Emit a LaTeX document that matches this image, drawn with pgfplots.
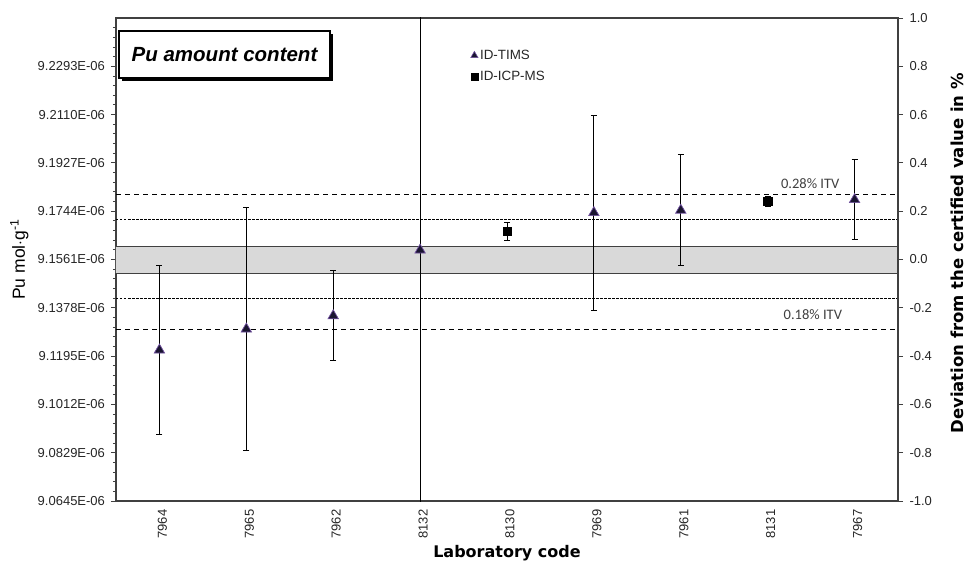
\documentclass[border=0pt]{standalone}
\usepackage{pgfplots}
\pgfplotsset{compat=1.18}
\usepackage{fontspec}
\setmainfont{Liberation Sans}
\newfontfamily\verd{DejaVu Sans}
\newfontfamily\calib{Carlito}
\usetikzlibrary{shadows}
\definecolor{axgray}{HTML}{404040}
\definecolor{bandgray}{HTML}{D9D9D9}
\definecolor{trifill}{HTML}{1A1530}
\definecolor{triedge}{HTML}{7050A0}
\newcommand{\tickfont}{\fontsize{13}{15}\selectfont}
\pgfplotsset{
  timsleg/.style={legend image code/.code={\draw[mark=triangle*, mark size=4.2pt, mark options={fill=trifill, draw=triedge, line width=0.6pt}] plot coordinates {(0pt,0pt)};}},
  icpleg/.style={legend image code/.code={\draw[mark=square*, mark size=3.4pt, mark options={fill=black, draw=black}] plot coordinates {(0pt,0pt)};}},
}

\pgfplotstableread{
x y e
0 -0.375 0.350
1 -0.288 0.503
2 -0.233 0.186
5 0.194 0.404
6 0.204 0.229
8 0.248 0.166
}\timsdata
\pgfplotstableread{
x y e
3 0.039 3.0
}\timsbig
\pgfplotstableread{
x y e
4 0.116 0.037
7 0.241 0.020
}\icpdata

\begin{document}
\begin{tikzpicture}
\begin{axis}[
  scale only axis, width=782pt, height=483pt,
  xmin=-0.5, xmax=8.5, ymin=-1, ymax=1,
  axis line style={draw=axgray, line width=1.1pt},
  xtick={0,1,2,3,4,5,6,7,8},
  xticklabels={7964,7965,7962,8132,8130,7969,7961,8131,7967},
  xtick style={draw=none},
  xtick pos=bottom,
  xticklabel style={rotate=90, anchor=east, font=\tickfont, text=black!85, yshift=-3pt},
  ytick={-1,-0.8,-0.6,-0.4,-0.2,0,0.2,0.4,0.6,0.8},
  yticklabels={9.0645E-06,9.0829E-06,9.1012E-06,9.1195E-06,9.1378E-06,9.1561E-06,9.1744E-06,9.1927E-06,9.2110E-06,9.2293E-06},
  minor ytick={-0.96,-0.92,-0.88,-0.84,-0.76,-0.72,-0.68,-0.64,-0.56,-0.52,-0.48,-0.44,-0.36,-0.32,-0.28,-0.24,-0.16,-0.12,-0.08,-0.04,0.04,0.08,0.12,0.16,0.24,0.28,0.32,0.36,0.44,0.48,0.52,0.56,0.64,0.68,0.72,0.76,0.84,0.88,0.92,0.96},
  ytick pos=left,
  tick align=outside,
  major tick length=5pt, minor tick length=3pt,
  ytick style={draw=axgray, line width=0.9pt},
  minor tick style={draw=axgray, line width=0.8pt},
  yticklabel style={font=\tickfont, text=black!85, xshift=-2.5pt},
  ylabel={Pu mol$\cdot$g\textsuperscript{-1}},
  ylabel style={at={(axis description cs:-0.1237,0.5)}, anchor=center, font=\fontsize{17.5}{20}\selectfont},
  xlabel={Laboratory code},
  xlabel style={at={(axis description cs:0.5,-0.1077)}, anchor=center, font=\verd\bfseries\fontsize{16}{18}\selectfont},
  legend style={at={(axis description cs:0.4534,0.938)}, anchor=north west, draw=none, fill=none,
    font=\fontsize{13.4}{15}\selectfont, row sep=6pt, inner sep=0pt, text=black!85},
  legend cell align=left,
  clip=true,
]
\coordinate (bl) at (rel axis cs:0,0);
\coordinate (tr) at (rel axis cs:1,1);
% certified value band
\addplot[draw=none, fill=bandgray, forget plot] coordinates {(-0.5,-0.056) (8.5,-0.056) (8.5,0.053) (-0.5,0.053) (-0.5,-0.056)};
\addplot[draw=axgray, line width=1pt, forget plot] coordinates {(-0.5,0.053) (8.5,0.053)};
\addplot[draw=axgray, line width=1pt, forget plot] coordinates {(-0.5,-0.056) (8.5,-0.056)};
% ITV lines
\addplot[black, line width=0.9pt, dash pattern=on 5pt off 4pt, forget plot] coordinates {(-0.5,0.271) (8.5,0.271)};
\addplot[black, line width=0.9pt, dash pattern=on 5pt off 4pt, forget plot] coordinates {(-0.5,-0.288) (8.5,-0.288)};
\addplot[black, line width=0.8pt, dash pattern=on 2.5pt off 1.5pt, forget plot] coordinates {(-0.5,0.164) (8.5,0.164)};
\addplot[black, line width=0.8pt, dash pattern=on 2.5pt off 1.5pt, forget plot] coordinates {(-0.5,-0.161) (8.5,-0.161)};
% 8132 with very large uncertainty
\addplot[only marks, mark=triangle*, mark size=6pt, mark options={fill=trifill, draw=triedge, line width=0.7pt}, forget plot,
  error bars/.cd, y dir=both, y explicit, error bar style={black, line width=1.2pt}, error mark=none]
  table[x=x, y=y, y error=e] {\timsbig};
% ID-TIMS
\addplot[only marks, mark=triangle*, mark size=6pt, mark options={fill=trifill, draw=triedge, line width=0.7pt},
  timsleg,
  error bars/.cd, y dir=both, y explicit, error bar style={black, line width=0.9pt},
  error mark options={rotate=90, black, mark size=3pt, line width=0.9pt}]
  table[x=x, y=y, y error=e] {\timsdata};
\addlegendentry{ID-TIMS}
% ID-ICP-MS
\addplot[only marks, mark=square*, mark size=4.2pt, mark options={fill=black, draw=black},
  icpleg,
  error bars/.cd, y dir=both, y explicit, error bar style={black, line width=0.8pt},
  error mark options={rotate=90, black, mark size=3pt, line width=0.8pt}]
  table[x=x, y=y, y error=e] {\icpdata};
\addlegendentry{ID-ICP-MS}
% title box
\node[draw=black, line width=1.3pt, fill=white, minimum width=211pt, minimum height=47pt,
  drop shadow={shadow xshift=3pt, shadow yshift=-3pt, fill=black, opacity=1},
  font=\bfseries\itshape\fontsize{20.5}{24}\selectfont]
  at (rel axis cs:0.1388,0.9244) {Pu amount content};
% ITV labels
\node[font=\calib\fontsize{14.5}{17}\selectfont, text=axgray] at (axis cs:7.49,0.315) {0.28\% ITV};
\node[font=\calib\fontsize{14.5}{17}\selectfont, text=axgray] at (axis cs:7.52,-0.228) {0.18\% ITV};
\end{axis}
\begin{axis}[
  scale only axis, width=782pt, height=483pt,
  xmin=-0.5, xmax=8.5, ymin=-1, ymax=1,
  axis x line=none, axis y line*=right,
  axis line style={draw=axgray, line width=1.1pt},
  ytick={-1,-0.8,-0.6,-0.4,-0.2,0,0.2,0.4,0.6,0.8,1},
  yticklabels={-1.0,-0.8,-0.6,-0.4,-0.2,0.0,0.2,0.4,0.6,0.8,1.0},
  tick align=outside, major tick length=5pt,
  ytick style={draw=axgray, line width=0.9pt},
  yticklabel style={font=\tickfont, text=black!85, xshift=3pt},
  ylabel={Deviation from the certified value in \%},
  ylabel style={at={(axis description cs:1.0754,0.513)}, anchor=center, font=\verd\bfseries\fontsize{16.5}{19}\selectfont},
]
\addplot[draw=none, forget plot] coordinates {(0,0)};
\end{axis}
\pgfresetboundingbox
\path ([shift={(-116pt,-62pt)}]bl) rectangle ([shift={(68pt,18pt)}]tr);
\end{tikzpicture}
\end{document}
